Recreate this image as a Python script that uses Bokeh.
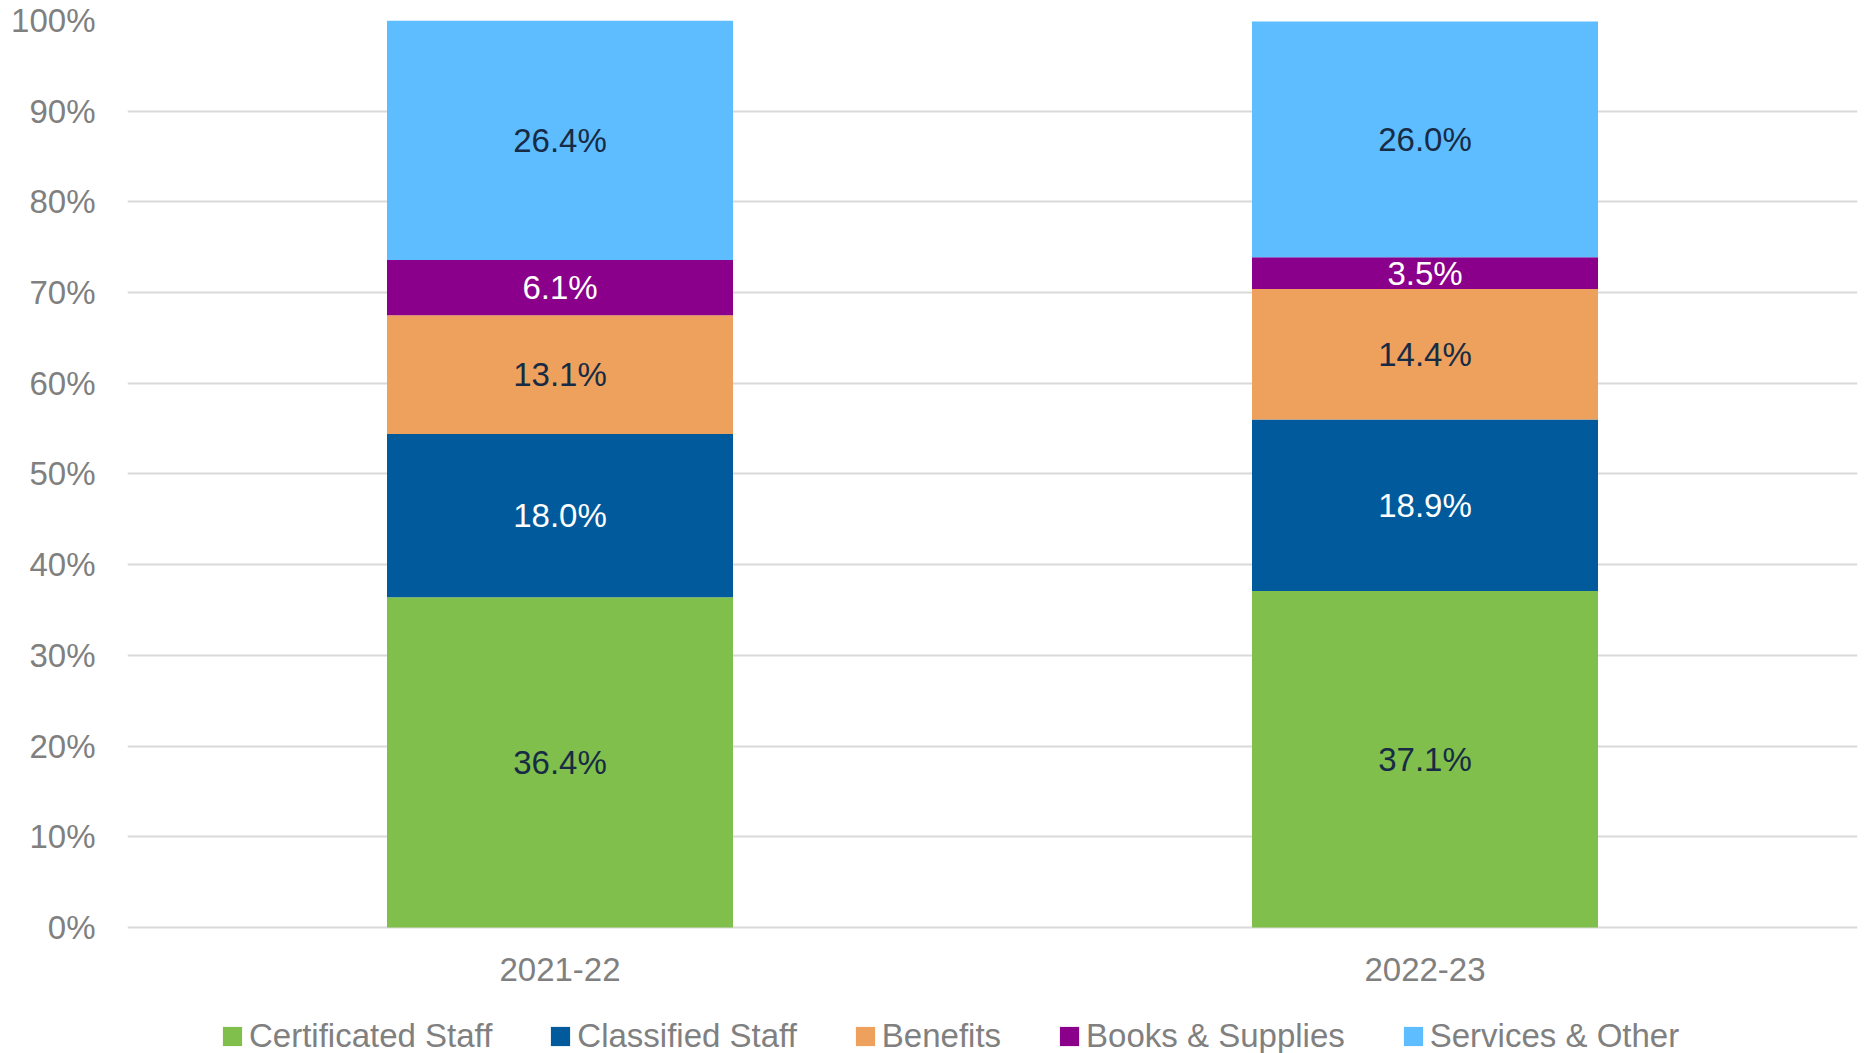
from bokeh.plotting import figure
from bokeh.models import (Range1d, FactorRange, FixedTicker, PrintfTickFormatter,
                          Legend, LegendItem, ColumnDataSource)
from bokeh.core.properties import value
from bokeh.embed import file_html
from bokeh.resources import INLINE

years = ["2021-22", "2022-23"]
categories = ["Certificated Staff", "Classified Staff", "Benefits", "Books & Supplies", "Services & Other"]
certificated = [36.4, 37.1]
classified = [18.0, 18.9]
benefits = [13.1, 14.4]
books = [6.1, 3.5]
services = [26.4, 26.0]
colors = ["#80BF4B", "#005A9C", "#EEA15C", "#8B008B", "#5EBDFF"]
label_colors = ["#172B45", "#FFFFFF", "#172B45", "#FFFFFF", "#172B45"]
y_ticks = [0, 10, 20, 30, 40, 50, 60, 70, 80, 90, 100]

FONT = "Liberation Sans"
GREY = "#808080"
FS = "33px"

series = [certificated, classified, benefits, books, services]
keys = ["c0", "c1", "c2", "c3", "c4"]
data = {"year": years}
for k, s in zip(keys, series):
    data[k] = s
src = ColumnDataSource(data)

# frame spans 1033 px; 100 units = 907 px, extra room below zero holds the labels and legend
p = figure(x_range=FactorRange(*years, range_padding=0), y_range=Range1d(-13.9, 100),
           frame_width=1730, frame_height=1033, output_backend="svg", toolbar_location=None,
           min_border_left=127, min_border_top=20, min_border_right=5, min_border_bottom=0)
p.outline_line_color = None
p.background_fill_color = "white"

renderers = p.vbar_stack(keys, x="year", width=0.4, source=src, color=colors, line_color=None)

# data labels
lx, ly, lt, lc = [], [], [], []
for i, y in enumerate(years):
    bottom = 0.0
    for j, s in enumerate(series):
        v = s[i]
        lx.append(y)
        ly.append(bottom + v / 2)
        lt.append(f"{v:.1f}%")
        lc.append(label_colors[j])
        bottom += v
lsrc = ColumnDataSource(dict(x=lx, y=ly, t=lt, c=lc))
p.text(x="x", y="y", text="t", source=lsrc, text_color="c", text_align="center",
       text_baseline="middle", text_font=value(FONT), text_font_size=FS)

# axes
p.yaxis.ticker = FixedTicker(ticks=y_ticks)
p.yaxis.formatter = PrintfTickFormatter(format="%d%%")
for ax in (p.xaxis[0], p.yaxis[0]):
    ax.axis_line_color = None
    ax.major_tick_line_color = None
    ax.minor_tick_line_color = None
    ax.major_tick_out = 0
    ax.major_tick_in = 0
    ax.major_label_text_font = FONT
    ax.major_label_text_font_size = FS
    ax.major_label_text_color = GREY
p.yaxis.major_label_standoff = 32
p.xaxis.major_label_standoff = 31
p.xaxis.fixed_location = 0

p.xgrid.grid_line_color = None
p.ygrid.grid_line_color = "#D9D9D9"
p.ygrid.grid_line_width = 2

items = [LegendItem(label=c, renderers=[r]) for c, r in zip(categories, renderers)]
legend = Legend(items=items, orientation="horizontal", location=(93, -2),
                padding=0, margin=0, spacing=56, label_standoff=5,
                glyph_width=24, glyph_height=24, label_text_font=FONT,
                label_text_font_size=FS, label_text_color=GREY,
                border_line_color=None, background_fill_alpha=0)
p.add_layout(legend, "center")

open("out.html", "w").write(file_html(p, INLINE))
